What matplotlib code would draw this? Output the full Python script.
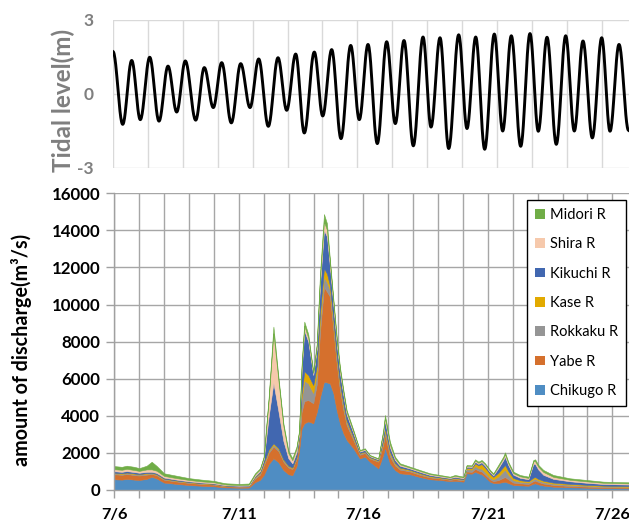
import numpy as np
import matplotlib
matplotlib.use("Agg")
import matplotlib.pyplot as plt
from matplotlib.patches import Patch
from matplotlib.ticker import FixedLocator, FuncFormatter

plt.rcParams['font.family'] = ['Lato', 'DejaVu Sans']

# ---------------- Data ----------------
# Tidal level extremes (time in days from panel start, level in m)
tide_t = [0.00, 0.278, 0.536, 0.782, 1.052, 1.318, 1.576, 1.825, 2.072, 2.370,
          2.616, 2.874, 3.115, 3.390, 3.659, 3.926, 4.175, 4.450, 4.728, 4.977,
          5.235, 5.481, 5.768, 6.009, 6.266, 6.533, 6.811, 7.057, 7.307, 7.573,
          7.842, 8.089, 8.338, 8.605, 8.883, 9.112, 9.370, 9.619, 9.905, 10.143,
          10.393, 10.650, 10.926, 11.166, 11.413, 11.682, 11.948, 12.186, 12.436, 12.702,
          12.971, 13.218, 13.467, 13.734, 14.003, 14.241, 14.499, 14.770]
tide_level = [1.72, -1.23, 1.36, -1.04, 1.49, -1.10, 1.13, -0.73, 1.34, -1.06,
              1.07, -0.55, 1.27, -1.17, 1.23, -0.55, 1.42, -1.31, 1.47, -0.66,
              1.62, -1.58, 1.70, -0.89, 1.80, -1.81, 1.97, -1.04, 2.01, -2.01,
              2.12, -1.20, 2.17, -2.10, 2.31, -1.34, 2.28, -2.21, 2.40, -1.40,
              2.31, -2.24, 2.43, -1.50, 2.36, -2.12, 2.45, -1.51, 2.30, -2.04,
              2.36, -1.50, 2.15, -1.78, 2.28, -1.51, 2.01, -1.47]
tide_xmax = 14.785

# Discharge (time in days from 7/6 00:00, m3/s)
t_days = [0.00, 0.30, 0.50, 0.80, 1.00, 1.30, 1.50, 1.70, 2.00, 2.50,
          3.00, 3.50, 4.00, 4.30, 4.50, 5.00, 5.40, 5.65, 5.85, 6.00,
          6.20, 6.39, 6.59, 6.79, 6.99, 7.15, 7.32, 7.42, 7.52, 7.63,
          7.79, 7.99, 8.13, 8.26, 8.42, 8.54, 8.66, 8.80, 8.93, 9.06,
          9.20, 9.33, 9.60, 9.86, 10.06, 10.26, 10.60, 10.80, 10.87, 11.07,
          11.27, 11.47, 11.87, 12.27, 12.68, 13.08, 13.48, 13.68, 14.02, 14.15,
          14.35, 14.49, 14.62, 14.75, 14.89, 15.09, 15.22, 15.42, 15.62, 15.69,
          15.82, 16.02, 16.29, 16.63, 16.83, 16.90, 17.03, 17.23, 17.63, 18.30,
          18.97, 19.64, 20.67]
chikugo = [580, 560, 600, 560, 540, 600, 717, 620, 400, 330,
           270, 230, 200, 160, 140, 125, 130, 420, 550, 810,
           1400, 1710, 1500, 1080, 850, 800, 1300, 2100, 3300, 3600,
           3700, 3600, 4200, 5000, 5840, 5800, 5750, 5210, 4310, 3600,
           3060, 2700, 2250, 1700, 1800, 1530, 1170, 1900, 2300, 1440,
           1080, 900, 850, 700, 580, 540, 480, 500, 450, 900,
           880, 990, 900, 850, 700, 450, 380, 380, 430, 450,
           380, 270, 250, 230, 340, 360, 300, 240, 180, 150,
           125, 100, 90]
yabe = [270, 260, 260, 250, 240, 230, 146, 180, 150, 130,
        110, 100, 90, 70, 60, 55, 60, 200, 280, 500,
        600, 630, 600, 450, 360, 330, 380, 500, 900, 1200,
        1150, 1080, 1500, 3500, 5120, 4900, 4680, 3420, 2520, 1790,
        1250, 800, 450, 200, 200, 170, 360, 550, 700, 360,
        250, 200, 150, 120, 100, 80, 70, 80, 70, 100,
        100, 150, 150, 150, 130, 120, 100, 150, 230, 250,
        200, 130, 110, 100, 140, 150, 130, 110, 90, 70,
        60, 50, 45]
rokkaku = [50, 50, 50, 50, 50, 50, 40, 40, 40, 30,
           30, 25, 25, 20, 20, 20, 20, 60, 70, 100,
           100, 100, 90, 70, 60, 50, 70, 150, 700, 1100,
           900, 550, 600, 600, 540, 520, 350, 300, 250, 230,
           200, 150, 100, 60, 50, 40, 40, 150, 200, 150,
           80, 60, 50, 50, 40, 30, 30, 40, 40, 120,
           120, 150, 130, 150, 130, 100, 90, 200, 350, 400,
           250, 130, 90, 80, 100, 100, 90, 80, 70, 60,
           50, 45, 40]
kase = [30, 30, 30, 30, 30, 30, 20, 20, 20, 20,
        20, 15, 15, 15, 10, 10, 10, 30, 40, 60,
        80, 80, 70, 50, 40, 35, 40, 60, 300, 500,
        450, 430, 400, 450, 460, 450, 250, 200, 180, 150,
        130, 100, 70, 40, 30, 30, 30, 110, 150, 100,
        60, 50, 40, 40, 30, 25, 20, 30, 25, 80,
        80, 150, 150, 250, 250, 200, 140, 200, 230, 250,
        200, 120, 80, 60, 90, 90, 80, 70, 60, 50,
        45, 40, 35]
kikuchi = [80, 80, 80, 80, 70, 70, 60, 60, 60, 50,
           40, 35, 30, 25, 25, 20, 20, 50, 80, 180,
           1800, 3270, 2000, 1000, 400, 220, 250, 200, 1200, 2200,
           1800, 540, 900, 1500, 2060, 2000, 1000, 800, 700, 580,
           470, 330, 200, 70, 80, 50, 50, 300, 400, 250,
           150, 100, 70, 70, 60, 50, 45, 60, 50, 60,
           60, 80, 80, 100, 100, 90, 80, 250, 370, 450,
           320, 180, 130, 110, 750, 700, 500, 320, 200, 140,
           110, 90, 85]
shira = [110, 110, 120, 110, 100, 130, 130, 120, 90, 80,
         70, 60, 55, 45, 40, 40, 45, 80, 90, 100,
         900, 2660, 1650, 800, 280, 170, 200, 120, 150, 250,
         200, 100, 150, 300, 450, 350, 200, 170, 160, 150,
         140, 120, 90, 50, 50, 40, 30, 120, 150, 150,
         90, 70, 50, 50, 45, 45, 40, 50, 45, 50,
         50, 70, 60, 60, 70, 60, 55, 90, 110, 130,
         100, 80, 80, 70, 130, 150, 150, 150, 110, 80,
         75, 65, 60]
midori = [170, 160, 170, 170, 150, 200, 410, 260, 140, 130,
          100, 95, 80, 70, 65, 60, 65, 60, 60, 50,
          150, 360, 200, 150, 130, 110, 120, 70, 150, 230,
          200, 80, 150, 300, 410, 360, 170, 150, 150, 150,
          140, 110, 80, 40, 40, 30, 30, 110, 145, 150,
          90, 60, 50, 50, 45, 40, 35, 50, 40, 40,
          40, 65, 60, 60, 60, 60, 55, 80, 80, 100,
          80, 80, 70, 70, 70, 105, 100, 110, 100, 80,
          75, 60, 60]

series_names = ['Chikugo R', 'Yabe R', 'Rokkaku R', 'Kase R', 'Kikuchi R', 'Shira R', 'Midori R']
series_colors = ['#4F8DC3', '#D5702D', '#959595', '#E2AA00', '#4167B0', '#F6C9AC', '#70AD47']
date_labels = ['7/6', '7/11', '7/16', '7/21', '7/26']
xmax_days = 20.67

# ---------------- Figure ----------------
W, H = 629, 526
fig = plt.figure(figsize=(W / 100, H / 100), dpi=100)

def fx(px):
    return px / W

def fy(py):
    return 1 - py / H

# ---- top panel: tidal level ----
ax1 = fig.add_axes([fx(113), fy(168), fx(629) - fx(113), fy(20) - fy(168)])
# smooth curve between consecutive extremes (half-cosine shape)
xs, ys = [], []
for i in range(len(tide_t) - 1):
    s = np.linspace(0, 1, 25, endpoint=False)
    t0, t1 = tide_t[i], tide_t[i + 1]
    y0, y1 = tide_level[i], tide_level[i + 1]
    xs.append(t0 + (t1 - t0) * s)
    ys.append(y0 + (y1 - y0) * (1 - np.cos(np.pi * s)) / 2)
xs.append([tide_t[-1]])
ys.append([tide_level[-1]])
ax1.plot(np.concatenate(xs), np.concatenate(ys), color='black', lw=2.1, zorder=3)
ax1.set_xlim(0, tide_xmax)
ax1.set_ylim(-3, 3)
ax1.set_yticks([-3, 0, 3])
ax1.set_yticklabels(['-3', '0', '3'])
ax1.xaxis.set_major_locator(FixedLocator(np.arange(0, 15, 1)))
ax1.set_xticklabels([])
ax1.tick_params(axis='both', length=0)
ax1.tick_params(axis='y', pad=14, labelsize=12.5, labelcolor='#7F7F7F')
for lab in ax1.get_yticklabels():
    lab.set_fontweight('bold')
ax1.grid(True, color='#D9D9D9', lw=1.0, zorder=0)
for sp in ax1.spines.values():
    sp.set_visible(False)
fig.text(fx(63), fy(100), 'Tidal level(m)', rotation=90, ha='center', va='center',
         fontsize=17.5, fontweight='bold', color='#7F7F7F')

# ---- bottom panel: discharge ----
ax2 = fig.add_axes([fx(114.3), fy(490), fx(629) - fx(114.3), fy(193.3) - fy(490)])
polys = ax2.stackplot(t_days, chikugo, yabe, rokkaku, kase, kikuchi, shira, midori,
                      colors=series_colors, labels=series_names, lw=0, zorder=2)
for p, c in zip(polys, series_colors):
    p.set_edgecolor(c)
    p.set_linewidth(0.4)
ax2.set_xlim(0, xmax_days)
ax2.set_ylim(0, 16000)
ax2.yaxis.set_major_locator(FixedLocator(np.arange(0, 16001, 2000)))
ax2.xaxis.set_major_locator(FixedLocator(np.arange(0, 21, 1)))
ax2.xaxis.set_major_formatter(FuncFormatter(
    lambda v, p: date_labels[int(round(v)) // 5] if int(round(v)) % 5 == 0 else ''))
ax2.tick_params(axis='both', direction='out', length=6, width=1, color='#A0A0A0')
ax2.tick_params(axis='x', pad=7, labelsize=11.8)
ax2.tick_params(axis='y', pad=4, labelsize=12.2)
for lab in ax2.get_xticklabels() + ax2.get_yticklabels():
    lab.set_fontweight('bold')
ax2.grid(True, color='#A6A6A6', lw=1.0, zorder=0)
ax2.set_axisbelow(True)
for k in ['top', 'right']:
    ax2.spines[k].set_visible(False)
for k in ['left', 'bottom']:
    ax2.spines[k].set_color('#A0A0A0')
    ax2.spines[k].set_linewidth(1.0)
fig.text(fx(22), fy(350), 'amount of discharge(m\u00b3/s)', rotation=90, ha='center',
         va='center', fontsize=14.2, fontweight='bold', color='black')

handles = [Patch(facecolor=c, edgecolor='none') for c in series_colors][::-1]
labels = series_names[::-1]
leg = ax2.legend(handles, labels, loc='upper right',
                 bbox_to_anchor=(fx(626), fy(200)), bbox_transform=fig.transFigure,
                 fontsize=10.5, frameon=True, fancybox=False, framealpha=1,
                 edgecolor='black', handlelength=0.65, handleheight=0.65,
                 handletextpad=0.35, labelspacing=1.05, borderpad=0.55,
                 borderaxespad=0)
leg.get_frame().set_linewidth(1.0)

fig.savefig('out.png', dpi=100)
